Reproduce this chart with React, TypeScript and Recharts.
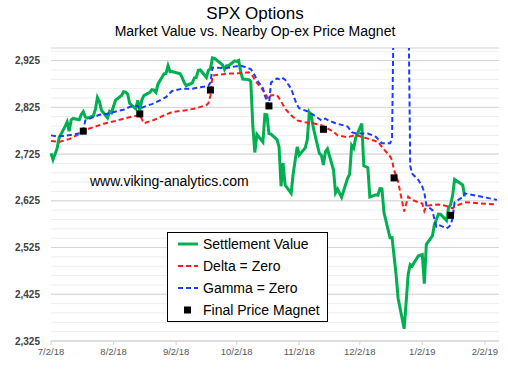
import React from 'react';
import { ComposedChart, Line, Scatter, XAxis, YAxis, CartesianGrid, Legend } from 'recharts';

const FONT = '"Liberation Sans", Arial, Helvetica, sans-serif';

const title = 'SPX Options';
const subtitle = 'Market Value vs. Nearby Op-ex Price Magnet';
const watermark = 'www.viking-analytics.com';

const settlement: [string, number][] = [
  ['7/2/18', 2726.71], ['7/3/18', 2713.22], ['7/5/18', 2736.61], ['7/6/18', 2759.82], ['7/9/18', 2784.17],
  ['7/10/18', 2793.84], ['7/11/18', 2774.02], ['7/12/18', 2798.29], ['7/13/18', 2801.31], ['7/16/18', 2798.43],
  ['7/17/18', 2809.55], ['7/18/18', 2815.62], ['7/19/18', 2804.49], ['7/20/18', 2801.83], ['7/23/18', 2806.98],
  ['7/24/18', 2820.4], ['7/25/18', 2846.07], ['7/26/18', 2837.44], ['7/27/18', 2818.82], ['7/30/18', 2802.6],
  ['7/31/18', 2816.29],
  ['8/1/18', 2813.36], ['8/2/18', 2827.22], ['8/3/18', 2840.35], ['8/6/18', 2850.4], ['8/7/18', 2858.45],
  ['8/8/18', 2857.7], ['8/9/18', 2853.58], ['8/10/18', 2833.28], ['8/13/18', 2821.93], ['8/14/18', 2839.96],
  ['8/15/18', 2818.37], ['8/16/18', 2840.69], ['8/17/18', 2850.13], ['8/20/18', 2857.05], ['8/21/18', 2862.96],
  ['8/22/18', 2861.82], ['8/23/18', 2856.98], ['8/24/18', 2874.69], ['8/27/18', 2896.74], ['8/28/18', 2897.52],
  ['8/29/18', 2914.04], ['8/30/18', 2901.13], ['8/31/18', 2901.52],
  ['9/4/18', 2896.72], ['9/5/18', 2888.6], ['9/6/18', 2878.05], ['9/7/18', 2871.68], ['9/10/18', 2877.13],
  ['9/11/18', 2887.89], ['9/12/18', 2888.92], ['9/13/18', 2904.18], ['9/14/18', 2904.98], ['9/17/18', 2888.8],
  ['9/18/18', 2904.31], ['9/19/18', 2907.95], ['9/20/18', 2930.75], ['9/21/18', 2929.67], ['9/24/18', 2919.37],
  ['9/25/18', 2915.56], ['9/26/18', 2905.97], ['9/27/18', 2914.0], ['9/28/18', 2913.98],
  ['10/1/18', 2924.59], ['10/2/18', 2923.43], ['10/3/18', 2925.51], ['10/4/18', 2901.61], ['10/5/18', 2885.57],
  ['10/8/18', 2884.43], ['10/9/18', 2880.34], ['10/10/18', 2785.68], ['10/11/18', 2728.37], ['10/12/18', 2767.13],
  ['10/15/18', 2750.79], ['10/16/18', 2809.92], ['10/17/18', 2809.21], ['10/18/18', 2768.78], ['10/19/18', 2767.78],
  ['10/22/18', 2755.88], ['10/23/18', 2740.69], ['10/24/18', 2656.1], ['10/25/18', 2705.57], ['10/26/18', 2658.69],
  ['10/29/18', 2641.25], ['10/30/18', 2682.63], ['10/31/18', 2711.74],
  ['11/1/18', 2740.37], ['11/2/18', 2723.06], ['11/5/18', 2738.31], ['11/6/18', 2755.45], ['11/7/18', 2813.89],
  ['11/8/18', 2806.83], ['11/9/18', 2781.01], ['11/12/18', 2726.22], ['11/13/18', 2722.18], ['11/14/18', 2701.58],
  ['11/15/18', 2730.2], ['11/16/18', 2736.27], ['11/19/18', 2690.73], ['11/20/18', 2641.89], ['11/21/18', 2649.93],
  ['11/23/18', 2632.56], ['11/26/18', 2673.45], ['11/27/18', 2682.17], ['11/28/18', 2743.79], ['11/29/18', 2737.8],
  ['11/30/18', 2760.17],
  ['12/3/18', 2790.37], ['12/4/18', 2700.06], ['12/6/18', 2695.95], ['12/7/18', 2633.08], ['12/10/18', 2637.72],
  ['12/11/18', 2636.78], ['12/12/18', 2651.07], ['12/13/18', 2650.54], ['12/14/18', 2599.95], ['12/17/18', 2545.94],
  ['12/18/18', 2546.16], ['12/19/18', 2506.96], ['12/20/18', 2467.42], ['12/21/18', 2416.62], ['12/24/18', 2351.1],
  ['12/26/18', 2467.7], ['12/27/18', 2488.83], ['12/28/18', 2485.74], ['12/31/18', 2506.85],
  ['1/2/19', 2510.03], ['1/3/19', 2447.89], ['1/4/19', 2531.94], ['1/7/19', 2549.69], ['1/8/19', 2574.41],
  ['1/9/19', 2584.96], ['1/10/19', 2596.64], ['1/11/19', 2596.26], ['1/14/19', 2582.61], ['1/15/19', 2610.3],
  ['1/16/19', 2616.1], ['1/17/19', 2635.96], ['1/18/19', 2670.71], ['1/22/19', 2659], ['1/23/19', 2634],
];

const deltaZero: [string, number][] = [
  ['7/2/18', 2753], ['7/6/18', 2751], ['7/11/18', 2757], ['7/16/18', 2768], ['7/18/18', 2773],
  ['7/20/18', 2778], ['7/26/18', 2787], ['7/30/18', 2792], ['8/3/18', 2796], ['8/8/18', 2802],
  ['8/15/18', 2809], ['8/17/18', 2791], ['8/22/18', 2798], ['8/27/18', 2808], ['8/31/18', 2815],
  ['9/7/18', 2819], ['9/12/18', 2823], ['9/17/18', 2830], ['9/18/18', 2834], ['9/19/18', 2850],
  ['9/20/18', 2893], ['9/27/18', 2897], ['10/3/18', 2898], ['10/8/18', 2900], ['10/10/18', 2892],
  ['10/11/18', 2883], ['10/15/18', 2862], ['10/17/18', 2848], ['10/18/18', 2843], ['10/19/18', 2851],
  ['10/22/18', 2851], ['10/24/18', 2838], ['10/26/18', 2822], ['10/29/18', 2808], ['11/1/18', 2797],
  ['11/6/18', 2792], ['11/9/18', 2791], ['11/13/18', 2787], ['11/19/18', 2773], ['11/21/18', 2765],
  ['11/26/18', 2761], ['11/30/18', 2766], ['12/6/18', 2758], ['12/11/18', 2751], ['12/14/18', 2735],
  ['12/17/18', 2720], ['12/18/18', 2712], ['12/19/18', 2690], ['12/20/18', 2680], ['12/21/18', 2666],
  ['12/24/18', 2602], ['12/26/18', 2634], ['12/27/18', 2630], ['12/28/18', 2627], ['12/31/18', 2622],
  ['1/2/19', 2619], ['1/3/19', 2603], ['1/4/19', 2614], ['1/7/19', 2616], ['1/10/19', 2617],
  ['1/14/19', 2614], ['1/16/19', 2610], ['1/17/19', 2609], ['1/18/19', 2613], ['1/22/19', 2620],
  ['1/23/19', 2622], ['2/8/19', 2617],
];

const gammaZero: [string, number][] = [
  ['7/2/18', 2765], ['7/5/18', 2763], ['7/9/18', 2764], ['7/13/18', 2767], ['7/17/18', 2770],
  ['7/18/18', 2777], ['7/19/18', 2797], ['7/23/18', 2804], ['7/26/18', 2809], ['7/31/18', 2812],
  ['8/3/18', 2816], ['8/7/18', 2820], ['8/10/18', 2826], ['8/14/18', 2828], ['8/15/18', 2822],
  ['8/17/18', 2826], ['8/21/18', 2832], ['8/24/18', 2838], ['8/28/18', 2847], ['8/31/18', 2860],
  ['9/5/18', 2865], ['9/10/18', 2865], ['9/14/18', 2868], ['9/18/18', 2871], ['9/19/18', 2878],
  ['9/20/18', 2910], ['9/27/18', 2909], ['10/3/18', 2914], ['10/5/18', 2913], ['10/9/18', 2907],
  ['10/11/18', 2893], ['10/12/18', 2884], ['10/15/18', 2866], ['10/16/18', 2850], ['10/17/18', 2838],
  ['10/18/18', 2829], ['10/19/18', 2878], ['10/22/18', 2887], ['10/24/18', 2883], ['10/25/18', 2887],
  ['10/26/18', 2884], ['10/29/18', 2865], ['10/31/18', 2840], ['11/1/18', 2830], ['11/2/18', 2823],
  ['11/7/18', 2815], ['11/12/18', 2800], ['11/13/18', 2797], ['11/15/18', 2801], ['11/16/18', 2798],
  ['11/20/18', 2791], ['11/26/18', 2784], ['11/28/18', 2772], ['11/30/18', 2769], ['12/6/18', 2769],
  ['12/10/18', 2762], ['12/13/18', 2748], ['12/17/18', 2748], ['12/18/18', 2758], ['12/19/18', 3100],
  ['12/20/18', 3100], ['12/21/18', 3100], ['12/24/18', 3100], ['12/26/18', 3100], ['12/27/18', 2700],
  ['12/28/18', 2683], ['12/31/18', 2670], ['1/2/19', 2655], ['1/3/19', 2643], ['1/4/19', 2615],
  ['1/7/19', 2605], ['1/8/19', 2585], ['1/9/19', 2570], ['1/10/19', 2573], ['1/11/19', 2572],
  ['1/14/19', 2566], ['1/15/19', 2569], ['1/16/19', 2573], ['1/17/19', 2588], ['1/18/19', 2622],
  ['1/22/19', 2633], ['1/23/19', 2641], ['2/8/19', 2627],
];

const magnetDates = ['7/18/18', '8/15/18', '9/19/18', '10/18/18', '11/14/18', '12/19/18', '1/16/19'];
const magnetValues = [2774, 2811, 2862, 2828, 2778, 2674, 2594];

const xTickLabels = ['7/2/18', '8/2/18', '9/2/18', '10/2/18', '11/2/18', '12/2/18', '1/2/19', '2/2/19'];
const xStart = '7/2/18';
const xEnd = '2/9/19';
const yTickValues = [2325, 2425, 2525, 2625, 2725, 2825, 2925];
const yMin = 2325;
const yMax = 2952;
const minorStep = 20;
const minorTop = 2945;

const legendItems = [
  { name: 'Settlement Value', kind: 'solid', color: '#00b050' },
  { name: 'Delta = Zero', kind: 'dash', color: '#ff1a1a' },
  { name: 'Gamma = Zero', kind: 'dash', color: '#1a3cff' },
  { name: 'Final Price Magnet', kind: 'square', color: '#000000' },
];

const BASE = Date.UTC(2018, 6, 2);
function dayOf(s: string): number {
  const [m, d, y] = s.split('/').map(Number);
  return Math.round((Date.UTC(2000 + y, m - 1, d) - BASE) / 86400000);
}

const toPoints = (arr: [string, number][]) => arr.map(([d, v]) => ({ x: dayOf(d), y: v }));
const settleData = toPoints(settlement);
const deltaData = toPoints(deltaZero);
const gammaData = toPoints(gammaZero);
const magnetData = magnetDates.map((d, i) => ({ x: dayOf(d), y: magnetValues[i] }));
const xTicks = xTickLabels.map(dayOf);
const tickLabelByDay = new Map(xTicks.map((t, i) => [t, xTickLabels[i]]));
const minorValues: number[] = [];
for (let v = yMin; v <= minorTop; v += minorStep) minorValues.push(v);

const SquareShape = (props: any) => {
  const { cx, cy } = props;
  if (cx == null || cy == null) return null;
  return <rect x={cx - 3.5} y={cy - 3.5} width={7} height={7} fill="#000" />;
};

const LegendBox = () => (
  <div
    style={{
      boxSizing: 'border-box',
      width: 161,
      height: 90,
      border: '1px solid #000',
      background: '#fff',
      fontFamily: FONT,
      fontSize: 14,
      color: '#000',
      paddingLeft: 10,
    }}
  >
    {legendItems.map((it) => (
      <div key={it.name} style={{ height: 22, display: 'flex', alignItems: 'center', whiteSpace: 'nowrap' }}>
        <svg width={25} height={10} style={{ flex: 'none' }}>
          {it.kind === 'solid' && <line x1={0} y1={5} x2={20} y2={5} stroke={it.color} strokeWidth={3} />}
          {it.kind === 'dash' && (
            <line x1={0} y1={5} x2={20} y2={5} stroke={it.color} strokeWidth={2} strokeDasharray="5 3" />
          )}
          {it.kind === 'square' && <rect x={6} y={1.5} width={7} height={7} fill={it.color} />}
        </svg>
        <span>{it.name}</span>
      </div>
    ))}
  </div>
);

export default function App() {
  return (
    <div style={{ position: 'absolute', left: 0, top: 0, width: 508, height: 373, background: '#fff' }}>
      <ComposedChart width={508} height={373} margin={{ top: 48, right: 9, bottom: 2, left: 0 }}>
        <CartesianGrid horizontalValues={minorValues} vertical={false} stroke="#ededed" strokeWidth={1} />
        <CartesianGrid vertical={false} stroke="#d4d4d4" strokeWidth={1} />
        <XAxis
          type="number"
          dataKey="x"
          domain={[dayOf(xStart), dayOf(xEnd)]}
          ticks={xTicks}
          interval={0}
          tickFormatter={(v: number) => tickLabelByDay.get(v) ?? ''}
          stroke="#d4d4d4"
          tickSize={4}
          tickMargin={3}
          height={30}
          tick={{ fill: '#595959', fontSize: 9.5, fontFamily: FONT }}
        />
        <YAxis
          type="number"
          domain={[yMin, yMax]}
          allowDataOverflow
          ticks={yTickValues}
          interval={0}
          width={51}
          axisLine={false}
          tickLine={false}
          tickSize={0}
          tickMargin={11}
          tickFormatter={(v: number) => v.toLocaleString('en-US')}
          tick={{ fill: '#404040', fontSize: 10, fontFamily: FONT, fontWeight: 'bold' }}
        />
        <Line
          data={settleData}
          dataKey="y"
          name={legendItems[0].name}
          stroke={legendItems[0].color}
          strokeWidth={3}
          dot={false}
          type="linear"
          isAnimationActive={false}
        />
        <Line
          data={deltaData}
          dataKey="y"
          name={legendItems[1].name}
          stroke={legendItems[1].color}
          strokeWidth={2}
          strokeDasharray="5 3"
          dot={false}
          type="linear"
          isAnimationActive={false}
        />
        <Line
          data={gammaData}
          dataKey="y"
          name={legendItems[2].name}
          stroke={legendItems[2].color}
          strokeWidth={2}
          strokeDasharray="5 3"
          dot={false}
          type="linear"
          isAnimationActive={false}
        />
        <Scatter
          data={magnetData}
          dataKey="y"
          name={legendItems[3].name}
          fill="#000"
          shape={SquareShape}
          isAnimationActive={false}
        />
        <Legend
          layout="vertical"
          align="center"
          verticalAlign="middle"
          content={() => <LegendBox />}
          wrapperStyle={{ left: 167, top: 232, width: 161, height: 90 }}
        />
      </ComposedChart>
      <svg
        width={508}
        height={373}
        style={{ position: 'absolute', left: 0, top: 0, pointerEvents: 'none' }}
      >
        <text x={255} y={19} textAnchor="middle" fontFamily={FONT} fontSize={17} fill="#000">
          {title}
        </text>
        <text x={255} y={36} textAnchor="middle" fontFamily={FONT} fontSize={14} fill="#000">
          {subtitle}
        </text>
        <text x={90} y={186} fontFamily={FONT} fontSize={14} fill="#000">
          {watermark}
        </text>
      </svg>
    </div>
  );
}
